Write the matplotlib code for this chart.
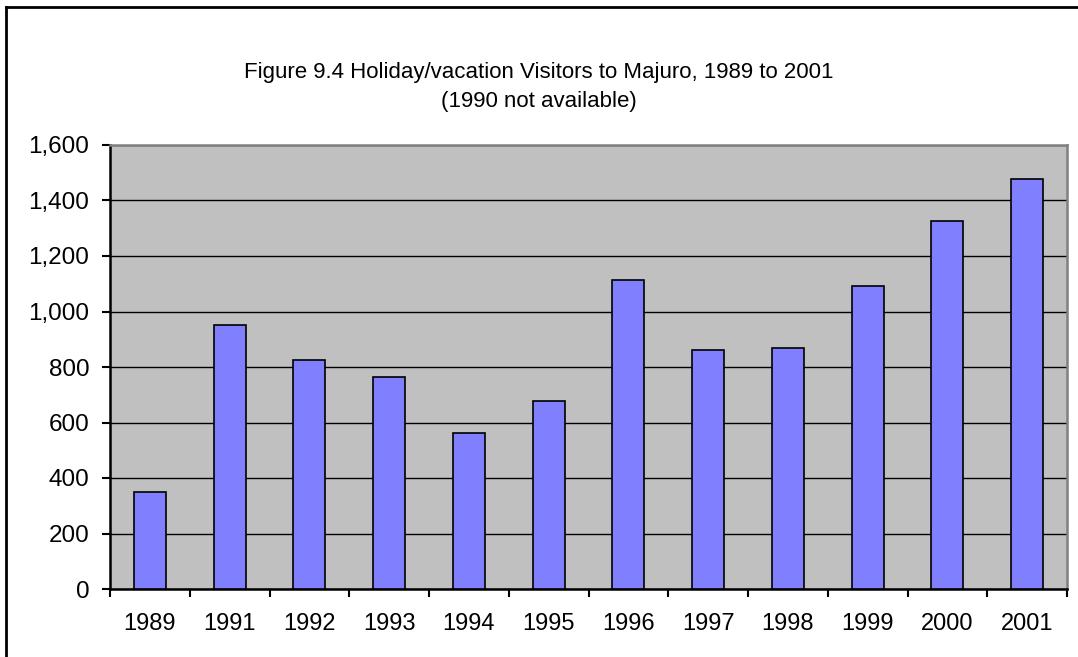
import matplotlib
matplotlib.use("Agg")
import matplotlib.pyplot as plt
from matplotlib.ticker import FuncFormatter, FixedLocator
from matplotlib.lines import Line2D
import numpy as np

years = ["1989", "1991", "1992", "1993", "1994", "1995", "1996",
         "1997", "1998", "1999", "2000", "2001"]
visitors = [350, 950, 827, 763, 562, 677, 1113, 863, 870, 1092, 1325, 1477]
yticks = [0, 200, 400, 600, 800, 1000, 1200, 1400, 1600]
title = "Figure 9.4 Holiday/vacation Visitors to Majuro, 1989 to 2001\n(1990 not available)"

plt.rcParams['font.family'] = ['Liberation Sans', 'DejaVu Sans']

fig = plt.figure(figsize=(10.78, 6.57), dpi=100)
ax = fig.add_axes([110/1078, 1-589/657, (1067-110)/1078, (589-145)/657])
ax.set_facecolor('#C0C0C0')

x = np.arange(len(years))
ax.set_axisbelow(True)
ax.yaxis.grid(True, color='black', linewidth=1)
ax.bar(x, visitors, width=0.4, color='#8080FF', edgecolor='black', linewidth=1.2, zorder=3)

ax.set_xlim(-0.5, len(years) - 0.5)
ax.set_ylim(0, 1600)
ax.set_yticks(yticks)
ax.yaxis.set_major_formatter(FuncFormatter(lambda v, p: f"{int(v):,}"))
ax.set_xticks(x)
ax.set_xticklabels(years)
ax.xaxis.set_minor_locator(FixedLocator(np.arange(-0.5, len(years), 1.0)))
ax.tick_params(axis='x', which='major', length=0, pad=17, labelsize=17)
ax.tick_params(axis='x', which='minor', length=6, width=1.5, direction='out', color='black')
ax.tick_params(axis='y', which='major', length=6, width=1.5, direction='out', pad=9, labelsize=17.5)

for s in ['left', 'bottom']:
    ax.spines[s].set_color('black')
    ax.spines[s].set_linewidth(1.8)
for s in ['top', 'right']:
    ax.spines[s].set_color('#808080')
    ax.spines[s].set_linewidth(1.8)

fig.text(0.5, 1 - 87/657, title, ha='center', va='center', fontsize=16,
         linespacing=1.45)

# outer chart border (left and top edges visible)
fig.add_artist(Line2D([6/1078, 6/1078], [0, 1 - 6.5/657], transform=fig.transFigure,
                      color='black', linewidth=2))
fig.add_artist(Line2D([6/1078, 1], [1 - 6.5/657, 1 - 6.5/657], transform=fig.transFigure,
                      color='black', linewidth=2))

fig.savefig("out.png", dpi=100)
